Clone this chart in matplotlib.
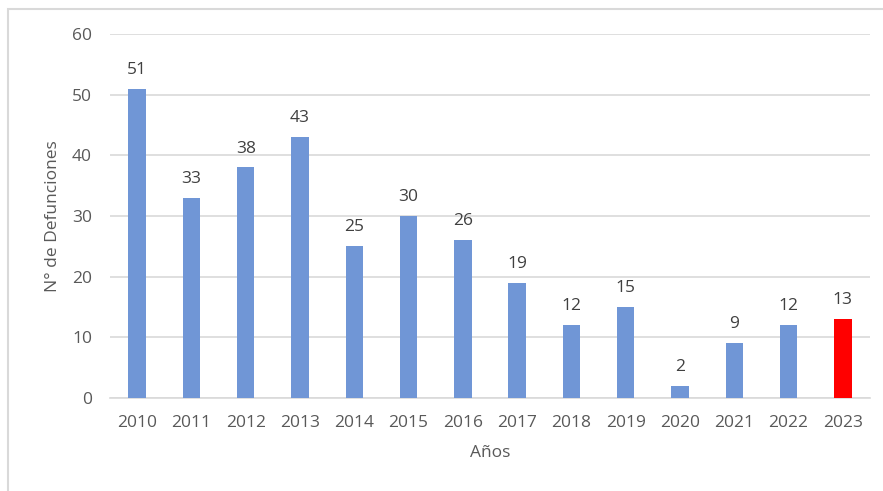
import matplotlib.pyplot as plt
from matplotlib.patches import Rectangle

years = ["2010", "2011", "2012", "2013", "2014", "2015", "2016",
         "2017", "2018", "2019", "2020", "2021", "2022", "2023"]
deaths = [51, 33, 38, 43, 25, 30, 26, 19, 12, 15, 2, 9, 12, 13]
colors = ["#7096D6"] * 13 + ["#FF0000"]

plt.rcParams['font.family'] = ['Open Sans', 'DejaVu Sans']
grey = "#595959"
fs = 12.5

fig = plt.figure(figsize=(8.83, 4.91), dpi=100)
fig.patches.append(Rectangle((8 / 883, -0.1), 1.2, 1 - 9 / 491 + 0.1,
                             transform=fig.transFigure, fill=False,
                             edgecolor="#D9D9D9", linewidth=1.5))
ax = fig.add_axes([110 / 883, 1 - 398 / 491, 760 / 883, 364 / 491])

x = range(len(years))
bars = ax.bar(x, deaths, width=0.32, color=colors, zorder=3)
for xi, v in zip(x, deaths):
    ax.text(xi, v + 1.8, str(v), ha="center", va="bottom", fontsize=fs, color="#404040")

ax.set_xlim(-0.5, len(years) - 0.5)
ax.set_ylim(0, 60)
ax.set_yticks(range(0, 61, 10))
ax.set_xticks(list(x))
ax.set_xticklabels(years)
ax.yaxis.grid(True, color="#D9D9D9", linewidth=1.2, zorder=0)
for s in ["top", "right", "left"]:
    ax.spines[s].set_visible(False)
ax.spines["bottom"].set_color("#D9D9D9")
ax.spines["bottom"].set_linewidth(1.2)
ax.tick_params(axis="both", length=0, labelsize=fs, labelcolor=grey)
ax.tick_params(axis="y", pad=13)
ax.tick_params(axis="x", pad=12)
ax.set_xlabel("Años", fontsize=fs, color=grey, labelpad=10)
ax.set_ylabel("N° de Defunciones", fontsize=fs, color=grey)
ax.yaxis.set_label_coords(-0.064, 0.5)

fig.savefig("out.png", dpi=100)
